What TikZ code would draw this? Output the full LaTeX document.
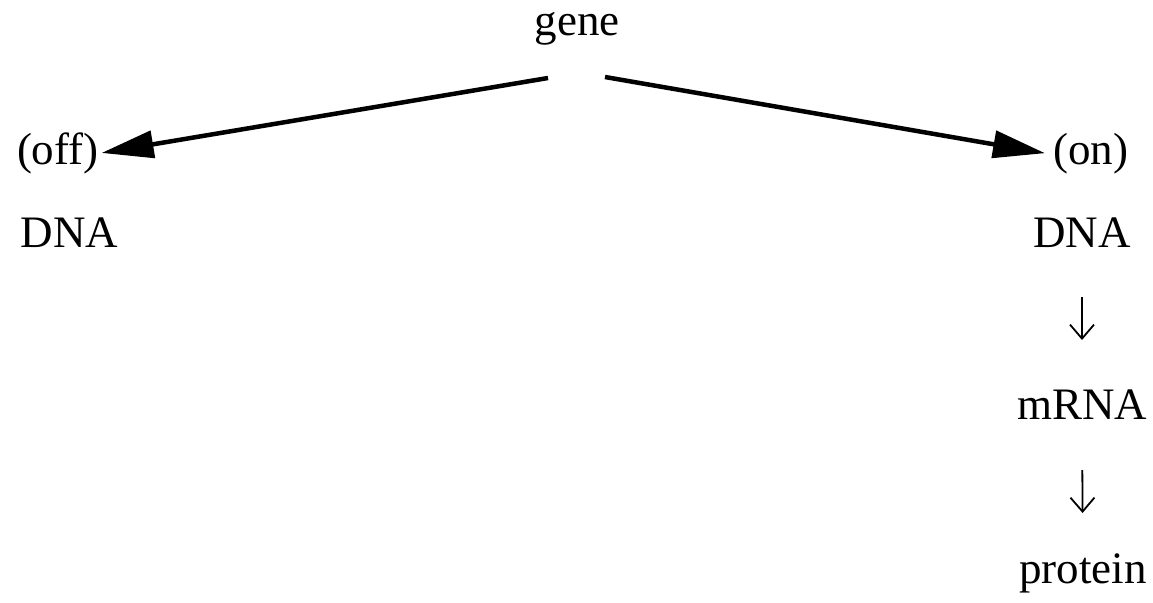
\documentclass[tikz,border=0pt]{standalone}
\usepackage{fontspec}
\setmainfont{Liberation Serif}
\usetikzlibrary{arrows.meta}
\begin{document}
\begin{tikzpicture}[x=1pt,y=-1pt,
  lbl/.style={font=\fontsize{45}{54}\selectfont, inner sep=0pt, outer sep=0pt, anchor=base},
  link/.style={line width=4.5pt, -{Triangle[length=52pt,width=27pt]}},
  flow/.style={line width=1.8pt, -{Straight Barb[length=14pt,width=24pt,line width=1.8pt]}}]
\useasboundingbox (0,0) rectangle (1153,602);
% top label and the two states of the gene
\node[lbl] (gene) at (577,36) {gene};
\node[lbl, anchor=base west] (off) at (17,164) {(off)};
\node[lbl, anchor=base west] (on) at (1053,164) {(on)};
% left column
\node[lbl] (dnaL) at (69.5,247) {DNA};
% right column: expression chain
\node[lbl] (dnaR) at (1082,247) {DNA};
\node[lbl] (mrna) at (1082,419) {mRNA};
\node[lbl] (prot) at (1083,583) {protein};
% branching arrows
\coordinate (gl) at (548,78);
\coordinate (gr) at (605,77);
\draw[link] (gl) -- ([xshift=3pt]off.east);
\draw[link] (gr) -- ([xshift=-8pt]on.west);
% small downward arrows of the chain
\draw[flow, shorten <=50pt, shorten >=79pt] (dnaR.base) -- (mrna.base);
\draw[flow, shorten <=51pt, shorten >=70pt] (mrna.base) -- (prot.base);
\end{tikzpicture}
\end{document}
